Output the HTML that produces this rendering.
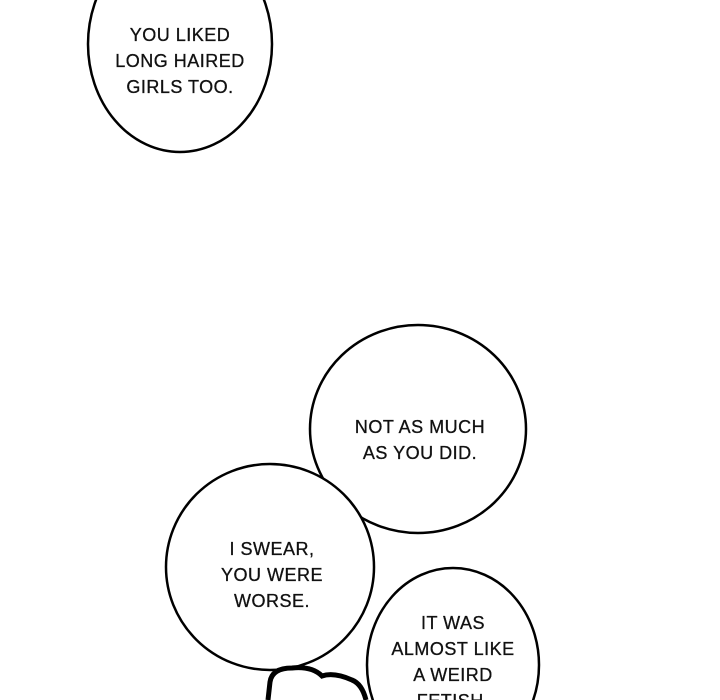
<!DOCTYPE html>
<html><head><style>
html,body{margin:0;padding:0;background:#fff;width:720px;height:700px;overflow:hidden;}
svg{display:block;overflow:hidden;}
text{font-family:"Liberation Sans",sans-serif;font-size:18px;fill:#111;text-anchor:middle;letter-spacing:0.5px;stroke:#111;stroke-width:0.3px;}
</style></head><body>
<svg width="720" height="700" viewBox="0 0 720 700" xmlns="http://www.w3.org/2000/svg">
<rect width="720" height="700" fill="#fff"/>
<g fill="#fff" stroke="#000" stroke-width="2.5">
<ellipse cx="180" cy="44" rx="92" ry="108"/>
<ellipse cx="418" cy="429" rx="108" ry="104"/>
<ellipse cx="270" cy="567" rx="104" ry="103"/>
</g>
<path d="M268 700 L270 682 Q272 668 292 668 Q312 666 322 676 Q334 672 352 680 Q362 684 366 700" fill="none" stroke="#000" stroke-width="5"/>
<ellipse cx="453" cy="665" rx="86" ry="97" fill="#fff" stroke="#000" stroke-width="2.5"/>
<text x="180" y="41">YOU LIKED</text>
<text x="180" y="67">LONG HAIRED</text>
<text x="180" y="93">GIRLS TOO.</text>
<text x="420" y="433">NOT AS MUCH</text>
<text x="420" y="459">AS YOU DID.</text>
<text x="272" y="555">I SWEAR,</text>
<text x="272" y="581">YOU WERE</text>
<text x="272" y="607">WORSE.</text>
<text x="453" y="629">IT WAS</text>
<text x="453" y="655">ALMOST LIKE</text>
<text x="453" y="681">A WEIRD</text>
<text x="453" y="707">FETISH.</text>
</svg>
</body></html>
